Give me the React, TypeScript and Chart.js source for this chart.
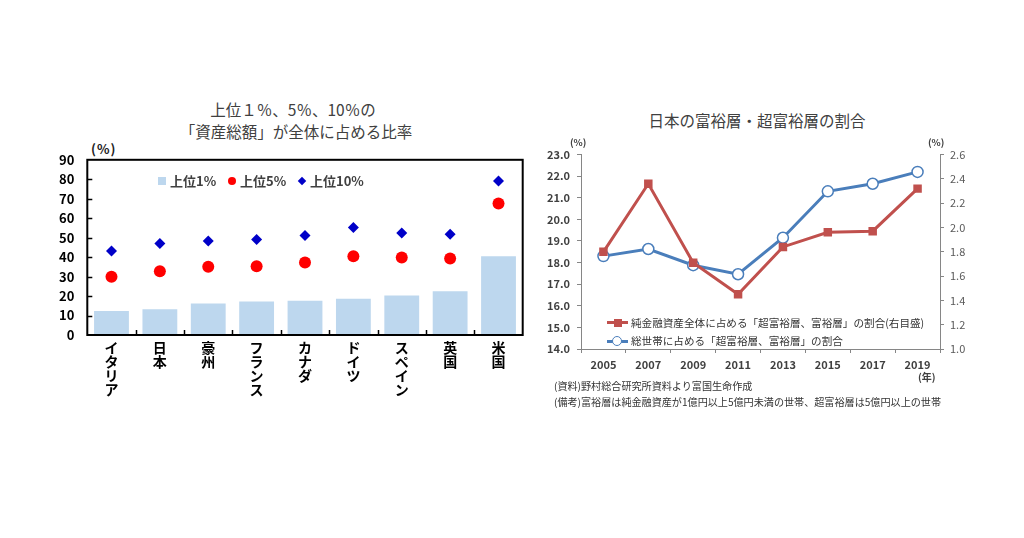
import React, { useEffect, useRef } from 'react';
import { Chart, registerables } from 'chart.js';
Chart.register(...registerables);

// ---- Left chart data ----
const countries = ['イタリア', '日本', '豪州', 'フランス', 'カナダ', 'ドイツ', 'スペイン', '英国', '米国'];
const top1 = [12.3, 13.2, 16.2, 17.2, 17.6, 18.6, 20.3, 22.5, 40.5];
const top5 = [29.9, 32.8, 35.0, 35.3, 37.2, 40.5, 39.8, 39.3, 67.5];
const top10 = [43.2, 47.0, 48.3, 49.0, 51.1, 55.2, 52.4, 51.7, 79.1];
const leftTicksMax = 90;

// ---- Right chart data ----
const years = ['2005', '2007', '2009', '2011', '2013', '2015', '2017', '2019'];
// 純金融資産全体に占める割合（右目盛）
const assetShare = [1.80, 2.36, 1.71, 1.45, 1.84, 1.96, 1.97, 2.32];
// 総世帯に占める割合（左目盛）
const householdShare = [18.3, 18.63, 17.88, 17.46, 19.15, 21.3, 21.65, 22.2];

const FONT = '"Noto Sans CJK JP", "Noto Sans", sans-serif';

const leftFrame = {
  id: 'leftFrame',
  afterDraw(chart: any) {
    const { ctx, chartArea: a, scales } = chart;
    ctx.save();
    ctx.strokeStyle = '#000';
    ctx.lineWidth = 2;
    ctx.strokeRect(a.left, a.top, a.right - a.left, a.bottom - a.top);
    ctx.lineWidth = 1.5;
    const y = scales.y;
    for (let v = 10; v < leftTicksMax; v += 10) {
      const py = Math.round(y.getPixelForValue(v)) + 0.5;
      ctx.beginPath();
      ctx.moveTo(a.left, py);
      ctx.lineTo(a.left + 5, py);
      ctx.stroke();
    }
    const x = scales.x;
    for (let i = 1; i < countries.length; i++) {
      const px = Math.round((x.getPixelForValue(i - 1) + x.getPixelForValue(i)) / 2) + 0.5;
      ctx.beginPath();
      ctx.moveTo(px, a.bottom);
      ctx.lineTo(px, a.bottom - 5);
      ctx.stroke();
    }
    ctx.restore();
  },
};

function LeftChart() {
  const ref = useRef<HTMLCanvasElement>(null);
  useEffect(() => {
    const chart = new Chart(ref.current!, {
      type: 'bar',
      data: {
        labels: countries.map((c) => c.split('')),
        datasets: [
          {
            type: 'line',
            label: '上位10%',
            data: top10,
            showLine: false,
            pointStyle: 'rectRot',
            pointRadius: 5.5,
            pointBackgroundColor: '#0000c8',
            pointBorderWidth: 0,
            borderColor: '#0000c8',
          } as any,
          {
            type: 'line',
            label: '上位5%',
            data: top5,
            showLine: false,
            pointStyle: 'circle',
            pointRadius: 6,
            pointBackgroundColor: '#ff0000',
            pointBorderWidth: 0,
            borderColor: '#ff0000',
          } as any,
          {
            type: 'bar',
            label: '上位1%',
            data: top1,
            backgroundColor: '#bdd7ee',
            barPercentage: 0.72,
            categoryPercentage: 1.0,
          },
        ],
      },
      options: {
        animation: false,
        responsive: false,
        devicePixelRatio: 1,
        layout: { padding: { top: 0, right: 17.3, left: 0, bottom: 0 } },
        plugins: { legend: { display: false }, tooltip: { enabled: false }, title: { display: false } },
        scales: {
          x: {
            offset: true,
            grid: { display: false, drawTicks: false },
            border: { display: false },
            ticks: {
              autoSkip: false,
              maxRotation: 0,
              minRotation: 0,
              padding: 6,
              color: '#000',
              font: { family: FONT, size: 14, weight: 'bold', lineHeight: 1.0 },
            },
            afterFit: (s: any) => { s.height = 75; },
          },
          y: {
            min: 0,
            max: leftTicksMax,
            ticks: {
              stepSize: 10,
              padding: 13,
              color: '#000',
              font: { family: FONT, size: 13, weight: 'bold' },
            },
            grid: { display: false, drawTicks: false },
            border: { display: false },
            afterFit: (s: any) => { s.width = 47.3; },
          },
        },
      },
      plugins: [leftFrame],
    });
    return () => chart.destroy();
  }, []);
  return <canvas ref={ref} width={500} height={271.5} style={{ position: 'absolute', left: 40, top: 138.5, display: 'block' }} />;
}

function RightChart() {
  const ref = useRef<HTMLCanvasElement>(null);
  useEffect(() => {
    const axisColor = '#868686';
    const chart = new Chart(ref.current!, {
      type: 'line',
      data: {
        labels: years,
        datasets: [
          {
            label: '純金融資産全体に占める「超富裕層、富裕層」の割合（右目盛）',
            data: assetShare,
            yAxisID: 'y1',
            borderColor: '#c0504d',
            backgroundColor: '#c0504d',
            borderWidth: 3,
            pointStyle: 'rect',
            pointRadius: 6,
            pointBackgroundColor: '#c0504d',
            pointBorderColor: '#c0504d',
            pointBorderWidth: 0,
            tension: 0,
          },
          {
            label: '総世帯に占める「超富裕層、富裕層」の割合',
            data: householdShare,
            yAxisID: 'y',
            borderColor: '#4a7ebb',
            backgroundColor: '#ffffff',
            borderWidth: 3,
            pointStyle: 'circle',
            pointRadius: 5.5,
            pointBackgroundColor: '#ffffff',
            pointBorderColor: '#4a7ebb',
            pointBorderWidth: 1.5,
            tension: 0,
          },
        ],
      },
      options: {
        animation: false,
        responsive: false,
        devicePixelRatio: 1,
        layout: { padding: { top: 0, right: 0, left: 0, bottom: 0 } },
        plugins: { legend: { display: false }, tooltip: { enabled: false }, title: { display: false } },
        scales: {
          x: {
            offset: true,
            grid: { offset: true, drawOnChartArea: false, drawTicks: true, tickLength: 4, color: axisColor },
            border: { display: true, color: axisColor, width: 1 },
            ticks: {
              autoSkip: false,
              maxRotation: 0,
              padding: 5,
              color: '#404040',
              font: { family: FONT, size: 11, weight: 'bold' },
            },
            afterFit: (s: any) => { s.height = 40; },
          },
          y: {
            position: 'left',
            min: 14,
            max: 23,
            ticks: {
              stepSize: 1,
              padding: 7,
              color: '#404040',
              font: { family: FONT, size: 11, weight: 'bold' },
              callback: (v: any) => Number(v).toFixed(1),
            },
            grid: { drawOnChartArea: false, drawTicks: true, tickLength: 4, color: axisColor },
            border: { display: true, color: axisColor, width: 1 },
            afterFit: (s: any) => { s.width = 61; },
          },
          y1: {
            position: 'right',
            min: 1.0,
            max: 2.6,
            ticks: {
              stepSize: 0.2,
              padding: 6,
              color: '#595959',
              font: { family: FONT, size: 11 },
              callback: (v: any) => Number(v).toFixed(1),
            },
            grid: { drawOnChartArea: false, drawTicks: true, tickLength: 4, color: axisColor },
            border: { display: true, color: axisColor, width: 1 },
            afterFit: (s: any) => { s.width = 50; },
          },
        },
      },
    });
    return () => chart.destroy();
  }, []);
  return <canvas ref={ref} width={470} height={248.6} style={{ position: 'absolute', left: 520, top: 141.4, display: 'block' }} />;
}

const txt = (left: number, cy: number, size: number, extra: any = {}) => ({
  position: 'absolute' as const,
  left,
  top: cy - 10,
  lineHeight: '20px',
  fontSize: size,
  whiteSpace: 'nowrap' as const,
  fontFamily: FONT,
  color: '#333',
  ...extra,
});

const centered = (cx: number, cy: number, size: number, extra: any = {}) =>
  txt(cx - 200, cy, size, { width: 400, textAlign: 'center', ...extra });

export default function App() {
  return (
    <div style={{ position: 'absolute', left: 0, top: 0, width: 1024, height: 538, background: '#fff', overflow: 'hidden', fontFamily: FONT }}>
      {/* Left chart titles */}
      <div style={centered(293, 109, 15.5, { color: '#404040' })}>上位１％、5％、10％の</div>
      <div style={centered(296, 131, 15.5, { color: '#404040' })}>「資産総額」が全体に占める比率</div>
      <div style={txt(91, 149, 13, { fontWeight: 'bold', color: '#222', letterSpacing: 1 })}>(%)</div>
      <LeftChart />
      {/* Left legend */}
      <div style={{ position: 'absolute', left: 158, top: 177, width: 8, height: 8, background: '#bdd7ee' }} />
      <div style={txt(170, 181, 13, { color: '#404040', fontWeight: 'bold' })}>上位1%</div>
      <div style={{ position: 'absolute', left: 228, top: 177, width: 8, height: 8, borderRadius: 4, background: '#ff0000' }} />
      <div style={txt(240, 181, 13, { color: '#404040', fontWeight: 'bold' })}>上位5%</div>
      <div style={{ position: 'absolute', left: 299, top: 178, width: 6, height: 6, background: '#0000c8', transform: 'rotate(45deg)' }} />
      <div style={txt(310, 181, 13, { color: '#404040', fontWeight: 'bold' })}>上位10%</div>

      {/* Right chart */}
      <div style={centered(757, 120, 15.5, { color: '#404040' })}>日本の富裕層・超富裕層の割合</div>
      <div style={txt(570, 142, 9.5, { fontWeight: 'bold', color: '#404040' })}>(%)</div>
      <div style={txt(928, 142, 9.5, { fontWeight: 'bold', color: '#404040' })}>(%)</div>
      <RightChart />
      {/* Right legend */}
      <div style={{ position: 'absolute', left: 607, top: 321, width: 21, height: 3, background: '#c0504d' }} />
      <div style={{ position: 'absolute', left: 613.5, top: 318.5, width: 8, height: 8, background: '#c0504d' }} />
      <div style={txt(631, 322.5, 10.6, { color: '#333' })}>純金融資産全体に占める「超富裕層、富裕層」の割合(右目盛)</div>
      <div style={{ position: 'absolute', left: 607, top: 339.5, width: 21, height: 3, background: '#4a7ebb' }} />
      <div style={{ position: 'absolute', left: 612, top: 335.5, width: 8, height: 8, borderRadius: 6, background: '#fff', border: '1.5px solid #4a7ebb' }} />
      <div style={txt(631, 341, 10.6, { color: '#333' })}>総世帯に占める「超富裕層、富裕層」の割合</div>
      <div style={txt(918, 377, 10, { fontWeight: 'bold', color: '#404040' })}>(年)</div>
      {/* Notes */}
      <div style={txt(554, 386, 10.1, { color: '#333' })}>(資料)野村総合研究所資料より富国生命作成</div>
      <div style={txt(554, 402, 10.1, { color: '#333' })}>(備考)富裕層は純金融資産が1億円以上5億円未満の世帯、超富裕層は5億円以上の世帯</div>
    </div>
  );
}
